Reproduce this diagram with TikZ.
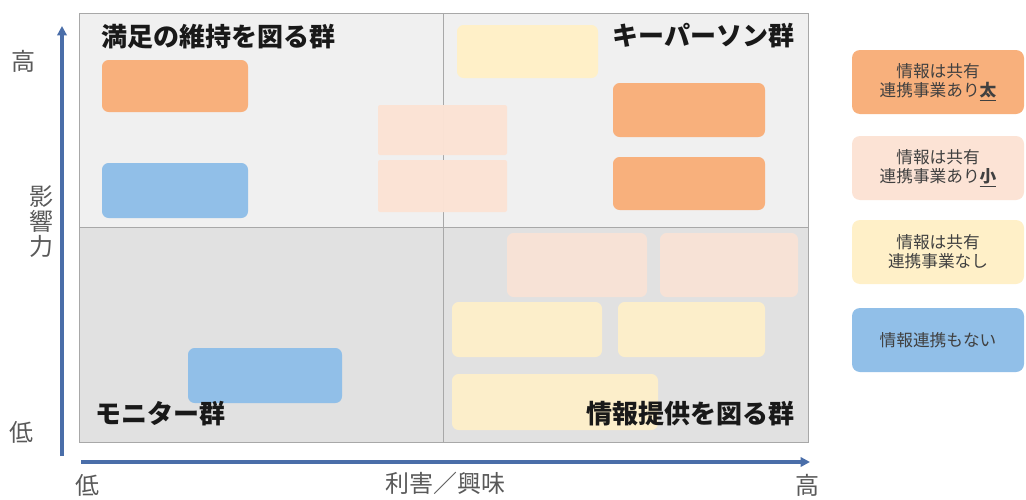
\documentclass[tikz,border=0pt]{standalone}
\usepackage{fontspec}
\setmainfont{Noto Sans CJK JP}
\usetikzlibrary{arrows.meta}

\definecolor{axisblue}{HTML}{4A6EA9}
\definecolor{topgray}{HTML}{F0F0F0}
\definecolor{lowgray}{HTML}{E1E1E1}
\definecolor{framegray}{HTML}{A8A8A8}
\definecolor{strongorange}{HTML}{F8B07C}
\definecolor{palepeach}{HTML}{FCE3D5}
\definecolor{paleyellow}{HTML}{FFF0C8}
\definecolor{midblue}{HTML}{91BFE8}
\definecolor{labelgray}{HTML}{595959}

\tikzset{
	card/.style = {rounded corners = 5pt},
	flatcard/.style = {rounded corners = 1.5pt},
	legendbox/.style = {rounded corners = 6pt, minimum width = 129pt, minimum height = 48pt,
		align = center, text = black!75, font = \fontsize{12.5}{14.5}\selectfont},
	grouptitle/.style = {font = \bfseries\fontsize{19.5}{22}\selectfont, text = black!90},
	axislabel/.style = {font = \fontsize{18}{18.75}\selectfont, text = labelgray, align = center},
	axisline/.style = {axisblue, line width = 2.4pt, -{Triangle[length = 7pt, width = 7pt]}}
}

\begin{document}
\begin{tikzpicture}[x = 0.75pt, y = -0.75pt]
	\fill[white] (0,0) rectangle (1026,500);
	\useasboundingbox (0,0) rectangle (1026,500);
	
	% quadrants
	\fill[topgray] (79,13) rectangle (808,227);
	\fill[lowgray] (79,227) rectangle (808,442);
	\draw[framegray] (79,13) rectangle (808,442);
	\draw[framegray] (443.5,13) -- (443.5,442);
	\draw[framegray] (79,227) -- (808,227);
	
	% stakeholder cards
	\fill[strongorange, card] (102,60) rectangle (248,112);
	\fill[midblue, card] (102,163) rectangle (248,218);
	\fill[palepeach, flatcard, fill opacity = 0.97] (378,105) rectangle (507,155);
	\fill[palepeach, flatcard, fill opacity = 0.97] (378,160) rectangle (507,212);
	\fill[paleyellow, card] (457,25) rectangle (598,78);
	\fill[strongorange, card] (613,83) rectangle (765,137);
	\fill[strongorange, card] (613,157) rectangle (765,210);
	\fill[palepeach, card, fill opacity = 0.85] (507,233) rectangle (647,297);
	\fill[palepeach, card, fill opacity = 0.85] (660,233) rectangle (798,297);
	\fill[paleyellow, card, fill opacity = 0.9] (452,302) rectangle (602,357);
	\fill[paleyellow, card, fill opacity = 0.9] (618,302) rectangle (765,357);
	\fill[paleyellow, card, fill opacity = 0.9] (452,374) rectangle (658,430);
	\fill[midblue, card] (188,348) rectangle (342,403);
	
	% group names
	\node[grouptitle, anchor = west] (satisfy) at (97,37) {満足の維持を図る群};
	\node[grouptitle, anchor = east] (keyperson) at (799,36) {キーパーソン群};
	\node[grouptitle, anchor = west] (monitor) at (91,414) {モニター群};
	\node[grouptitle, anchor = east] (inform) at (799,414) {情報提供を図る群};
	
	% axes
	\coordinate (ytail) at (62,456);
	\coordinate (yhead) at (62,26);
	\coordinate (xtail) at (81,462);
	\coordinate (xhead) at (810,462);
	\draw[axisline] (ytail) -- (yhead);
	\draw[axisline] (xtail) -- (xhead);
	
	\node[axislabel] (yhigh) at (24,61) {高};
	\node[axislabel] (yname) at (41,222) {影\\響\\力};
	\node[axislabel] (ylow) at (22,432) {低};
	\node[axislabel] (xlow) at (87,485) {低};
	\node[axislabel] (xname) at (445,483) {利害／興味};
	\node[axislabel] (xhigh) at (807,485) {高};
	
	% legend
	\node[legendbox, fill = strongorange] (keyorange) at (938,82) {情報は共有\\連携事業あり\underline{\textbf{太}}};
	\node[legendbox, fill = palepeach] (keypeach) at (938,168) {情報は共有\\連携事業あり\underline{\textbf{小}}};
	\node[legendbox, fill = paleyellow] (keyyellow) at (938,252) {情報は共有\\連携事業なし};
	\node[legendbox, fill = midblue] (keyblue) at (938,340) {情報連携もない};
\end{tikzpicture}
\end{document}
